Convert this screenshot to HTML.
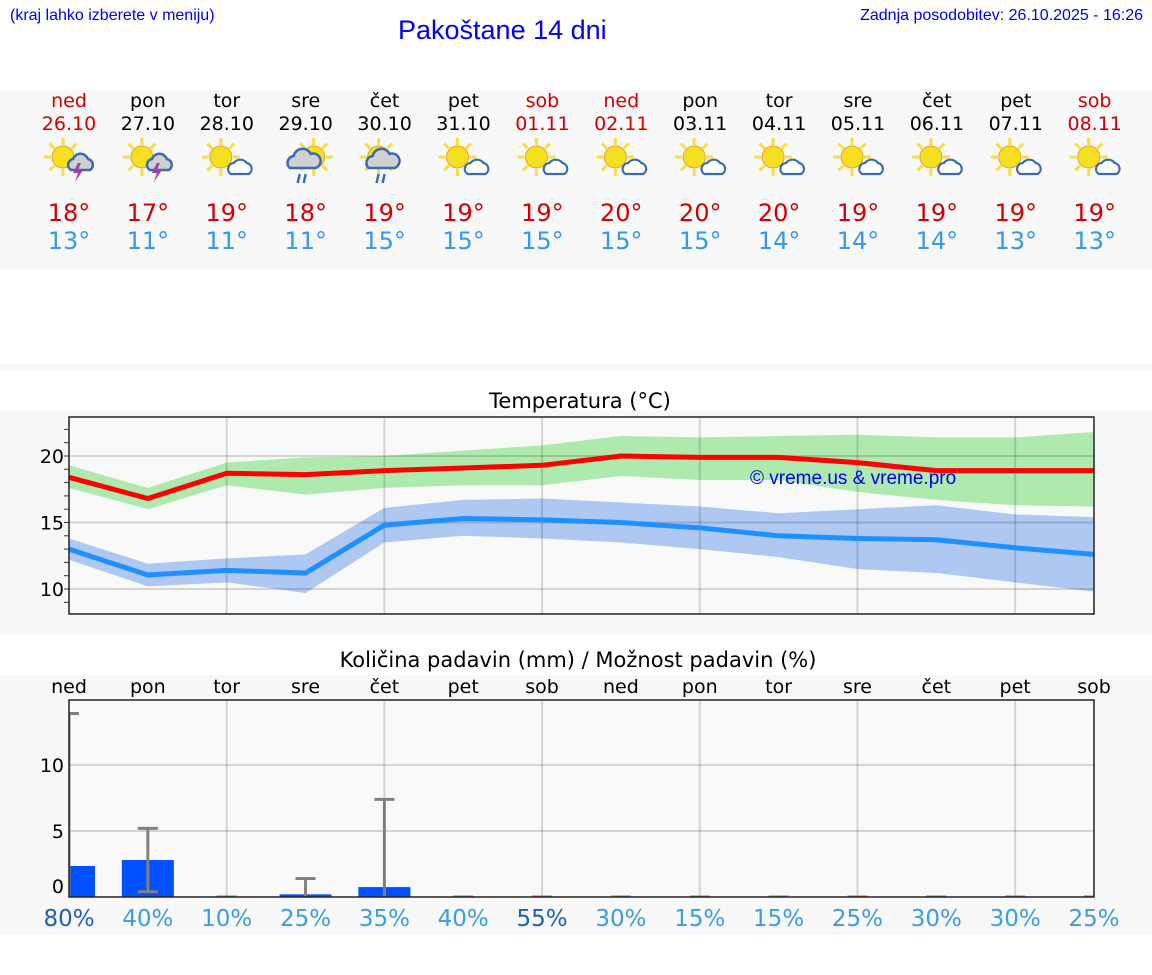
<!DOCTYPE html>
<html><head><meta charset="utf-8"><style>
body{margin:0;width:1152px;height:975px;background:#fff;font-family:"DejaVu Sans","Liberation Sans",sans-serif;position:relative;overflow:hidden}
.abs{position:absolute}
</style></head><body>
<div class="abs" style="left:10px;top:7px;font-size:16px;color:#0000ee;font-family:'Liberation Sans',sans-serif">(kraj lahko izberete v meniju)</div>
<div class="abs" style="left:398px;top:15px;font-size:27px;color:#0000ee;font-family:'Liberation Sans',sans-serif">Pakoštane 14 dni</div>
<div class="abs" style="right:9px;top:7px;font-size:16px;color:#0000ee;font-family:'Liberation Sans',sans-serif">Zadnja posodobitev: 26.10.2025 - 16:26</div>
<div class="abs" style="left:0;top:90px;width:1152px;height:180px;background:#f8f8f8"></div>
<div class="abs" style="left:0;top:364px;width:1152px;height:6px;background:#f8f8f8"></div>
<div class="abs" style="left:0;top:410px;width:1152px;height:225px;background:#f8f8f8"></div>
<div class="abs" style="left:0;top:675px;width:1152px;height:260px;background:#f8f8f8"></div>
<svg id="svg" class="abs" style="left:0;top:0" width="1152" height="975"></svg>
<script>
const days=["ned","pon","tor","sre","čet","pet","sob","ned","pon","tor","sre","čet","pet","sob"];
const dates=["26.10","27.10","28.10","29.10","30.10","31.10","01.11","02.11","03.11","04.11","05.11","06.11","07.11","08.11"];
const weekend=[1,0,0,0,0,0,1,1,0,0,0,0,0,1];
const icons=["storm","storm","cloud","rain","rainsun","sun","sun","sun","sun","sun","sun","sun","sun","sun"];
const tMaxLabel=[18,17,19,18,19,19,19,20,20,20,19,19,19,19];
const tMinLabel=[13,11,11,11,15,15,15,15,15,14,14,14,13,13];
const tMax=[18.4,16.8,18.7,18.6,18.9,19.1,19.3,20.0,19.9,19.9,19.5,18.9,18.9,18.9];
const tMaxHi=[19.3,17.6,19.5,19.9,20.0,20.4,20.8,21.5,21.4,21.5,21.6,21.4,21.4,21.8];
const tMaxLo=[17.6,16.0,17.8,17.1,17.6,17.8,17.8,18.5,18.2,18.2,17.3,16.7,16.3,16.2];
const tMin=[13.0,11.05,11.4,11.2,14.8,15.3,15.2,15.0,14.6,14.0,13.8,13.7,13.1,12.6];
const tMinHi=[13.8,11.9,12.3,12.6,16.1,16.7,16.8,16.5,16.2,15.7,16.0,16.3,15.6,15.4];
const tMinLo=[12.2,10.2,10.5,9.7,13.5,14.0,13.8,13.5,13.0,12.4,11.5,11.2,10.5,9.8];
const rain=[2.35,2.8,0,0.2,0.75,0,0,0,0,0,0,0,0,0];
const rainHi=[13.9,5.2,0,1.4,7.4,0,0,0,0,0,0,0,0,0];
const rainLo=[0,0.4,0,0,0,0,0,0,0,0,0,0,0,0];
const prob=[80,40,10,25,35,40,55,30,15,15,25,30,30,25];
const tTicks=[10,15,20];
const rTicks=[0,5,10];
const NS="http://www.w3.org/2000/svg";
const svg=document.getElementById('svg');
function mk(t,a,p){const e=document.createElementNS(NS,t);for(const k in a)e.setAttribute(k,a[k]);(p||svg).appendChild(e);return e}
const X0=69,X1=1094,n=14;
const px=i=>X0+i*(X1-X0)/(n-1);
const colX=i=>69+i*78.9;
days.forEach((d,i)=>{const cx=colX(i);const c=weekend[i]?"#d00000":"#000";
 let t=mk('text',{x:cx,y:107,'text-anchor':'middle','font-size':19,fill:c});t.textContent=d;
 
 
 t=mk('text',{x:cx,y:130,'text-anchor':'middle','font-size':19,fill:c});t.textContent=dates[i];
 
 
 const g=mk('g',{transform:`translate(${cx},160)`});
 
 
 const typ=icons[i];const sx=typ=="rain"?8:-6;
 for(let k=0;k<8;k++){const a=k*Math.PI/4;mk('line',{x1:sx+Math.cos(a)*12,y1:-3+Math.sin(a)*12,x2:sx+Math.cos(a)*19,y2:-3+Math.sin(a)*19,stroke:'#f5e040','stroke-width':3},g)}
 mk('circle',{cx:sx,cy:-3,r:11,fill:'#f5e020',stroke:'#e8a030','stroke-width':1},g);
 if(typ=="rain"||typ=="rainsun"){mk('path',{d:'M-16 8 a7 7 0 0 1 4-12 a9 9 0 0 1 17-2 a7 7 0 0 1 5 14 z',fill:'#d0d0d0',stroke:'#3a6ab0','stroke-width':2.5},g);
  mk('path',{d:'M-6 14 l-2 9 M0 14 l-2 9',stroke:'#3a6ab0','stroke-width':2.5},g)}
 else if(typ=="storm"){mk('path',{d:'M2 10 a6 6 0 0 1 2-11 a8 8 0 0 1 15 0 a6 6 0 0 1 2 11 z',fill:'#d0d0d0',stroke:'#3a6ab0','stroke-width':2.5},g);
  mk('path',{d:'M9 3 l-5 10 h5 l-3 9 l8-12 h-5 l3-7z',fill:'#a040a0'},g)}
 else{mk('path',{d:'M4 14 a6 6 0 0 1 3-11 a8 8 0 0 1 13 0 a6 6 0 0 1 2 11 z',fill:'#fff',stroke:'#3a6ab0','stroke-width':2.2},g)}
 t=mk('text',{x:cx,y:221,'text-anchor':'middle','font-size':24,fill:'#d00000'});t.textContent=tMaxLabel[i]+"°";
 
 
 t=mk('text',{x:cx,y:249,'text-anchor':'middle','font-size':24,fill:'#3399ee'});t.textContent=tMinLabel[i]+"°";
 
 
});
const TY0=417,TY1=614,ty=v=>456+(20-v)*13.3;
let t=mk('text',{x:580,y:408,'text-anchor':'middle','font-size':21,fill:'#000'});t.textContent="Temperatura (°C)";


mk('rect',{x:X0,y:TY0,width:X1-X0,height:TY1-TY0,fill:'#f9f9f9'});
function band(hi,lo,col,name){let d='M'+hi.map((v,i)=>px(i)+' '+ty(v)).join(' L')+' L'+lo.map((v,i)=>[px(i),ty(v)]).reverse().map(p=>p.join(' ')).join(' L')+'Z';
 const e=mk('path',{d,fill:col});
 
 }
function line(vs,col,name){const e=mk('polyline',{points:vs.map((v,i)=>px(i)+','+ty(v)).join(' '),fill:'none',stroke:col,'stroke-width':5});
 
 }
band(tMaxHi,tMaxLo,'#aeeaae','max-temp-band');band(tMinHi,tMinLo,'#aec8f2','min-temp-band');
for(let i=2;i<n;i+=2)mk('line',{x1:px(i),x2:px(i),y1:TY0,y2:TY1,stroke:'rgba(0,0,0,0.15)','stroke-width':2});
tTicks.forEach(v=>{mk('line',{x1:X0,x2:X1,y1:ty(v),y2:ty(v),stroke:'rgba(0,0,0,0.15)','stroke-width':2});
 const e=mk('text',{x:64,y:ty(v)+7,'text-anchor':'end','font-size':19,fill:'#000'});e.textContent=v;
 
 });
for(let v=9;v<=22;v++)mk('line',{x1:X0-5,x2:X0,y1:ty(v),y2:ty(v),stroke:'#333','stroke-width':1});
line(tMax,'#ff0000','max-temp-line');line(tMin,'#1e90ff','min-temp-line');
t=mk('text',{x:750,y:484,'font-size':19,fill:'#0000ee','font-family':'Liberation Sans,sans-serif'});t.textContent="© vreme.us & vreme.pro";


mk('rect',{x:X0,y:TY0,width:X1-X0,height:TY1-TY0,fill:'none',stroke:'#222','stroke-width':1.5});
const PY0=700,PY1=897,ry=v=>897-v*13.2;
t=mk('text',{x:578,y:667,'text-anchor':'middle','font-size':21,fill:'#000'});t.textContent="Količina padavin (mm) / Možnost padavin (%)";


mk('rect',{x:X0,y:PY0,width:X1-X0,height:PY1-PY0,fill:'#f9f9f9'});
for(let i=2;i<n;i+=2)mk('line',{x1:px(i),x2:px(i),y1:PY0,y2:PY1,stroke:'rgba(0,0,0,0.15)','stroke-width':2});
rTicks.forEach(v=>{if(v>0)mk('line',{x1:X0,x2:X1,y1:ry(v),y2:ry(v),stroke:'rgba(0,0,0,0.15)','stroke-width':2});
 const e=mk('text',{x:64,y:ry(v)+(v==0?-4:7),'text-anchor':'end','font-size':19,fill:'#000'});e.textContent=v;
 
 });
const clip=mk('clipPath',{id:'pc'});mk('rect',{x:X0,y:PY0-20,width:X1-X0,height:PY1-PY0+20},clip);
const pg=mk('g',{'clip-path':'url(#pc)'});
rain.forEach((v,i)=>{if(v>0){const e=mk('rect',{x:px(i)-26,y:ry(v),width:52,height:v*13.2,fill:'#0050ff'},pg);
 
 }});
rainHi.forEach((v,i)=>{const x=px(i),c='#808080';
 mk('line',{x1:x,x2:x,y1:ry(v),y2:ry(rainLo[i]),stroke:c,'stroke-width':3},pg);
 mk('line',{x1:x-10,x2:x+10,y1:ry(v),y2:ry(v),stroke:c,'stroke-width':3},pg);
 if(rainLo[i]>0)mk('line',{x1:x-10,x2:x+10,y1:ry(rainLo[i]),y2:ry(rainLo[i]),stroke:c,'stroke-width':3},pg)});
mk('rect',{x:X0,y:PY0,width:X1-X0,height:PY1-PY0,fill:'none',stroke:'#222','stroke-width':1.5});
days.forEach((d,i)=>{let e=mk('text',{x:px(i),y:693,'text-anchor':'middle','font-size':19,fill:'#000'});e.textContent=d;
 
 
 e=mk('text',{x:px(i),y:926,'text-anchor':'middle','font-size':23,fill:prob[i]>=50?'#1a62b8':'#3a9ee0'});e.textContent=prob[i]+"%";
 
 });
</script>
</body></html>
